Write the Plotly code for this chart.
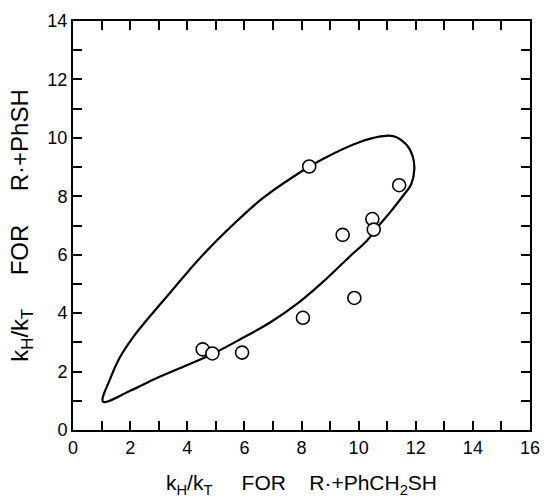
import plotly.graph_objects as go

# Data points (open circles)
pts_x = [4.54, 4.88, 5.92, 8.05, 8.27, 9.44, 9.85, 10.48, 10.53, 11.42]
pts_y = [2.76, 2.62, 2.65, 3.84, 9.02, 6.68, 4.52, 7.22, 6.86, 8.38]

# Enclosing curve
curve_x = [1.05, 1.30, 1.62, 2.10, 2.70, 3.40, 4.40, 5.50, 6.60, 7.70, 8.80, 9.84,
           10.52, 11.21, 11.66, 11.89, 11.95, 11.84, 11.55, 11.10, 10.70, 10.29,
           9.70, 8.81, 7.90, 6.90, 5.90, 4.90, 3.90, 2.90, 2.00, 1.05]
curve_y = [0.97, 1.75, 2.45, 3.17, 3.90, 4.70, 5.84, 6.93, 7.90, 8.66, 9.30, 9.78,
           10.00, 10.06, 9.78, 9.38, 8.92, 8.41, 8.01, 7.45, 6.99, 6.48,
           5.95, 5.12, 4.36, 3.68, 3.13, 2.61, 2.18, 1.76, 1.34, 0.97]

x_ticks = list(range(0, 17))
x_labels = [str(v) if v % 2 == 0 else "" for v in x_ticks]
y_ticks = list(range(0, 15))
y_labels = [str(v) if v % 2 == 0 else "" for v in y_ticks]

FONT = "Liberation Sans"
NB = "\u00a0"

x_title = ("k<sub>H</sub>/k<sub>T</sub>" + NB * 5 + "FOR" + NB * 4
           + "R·+PhCH<sub>2</sub>SH")
y_title = ("k<sub>H</sub>/k<sub>T</sub>" + NB * 5 + "FOR" + NB * 5 + "R·+PhSH")

fig = go.Figure()
fig.add_trace(go.Scatter(x=curve_x, y=curve_y, mode="lines",
                         line=dict(color="black", width=2.2, shape="spline", smoothing=1.0),
                         hoverinfo="skip", showlegend=False))
fig.add_trace(go.Scatter(x=pts_x, y=pts_y, mode="markers",
                         marker=dict(symbol="circle", size=13, color="white",
                                     line=dict(color="black", width=1.6)),
                         showlegend=False))

axis_common = dict(showgrid=False, zeroline=False, showline=True, linecolor="black",
                   linewidth=2, mirror="ticks", ticks="inside", ticklen=9,
                   tickwidth=1.6, tickcolor="black",
                   tickfont=dict(family=FONT, size=18, color="black"))

fig.update_xaxes(range=[0, 16], tickmode="array", tickvals=x_ticks, ticktext=x_labels,
                 title=dict(text=x_title,
                            font=dict(family=FONT, size=21, color="black"), standoff=19),
                 **axis_common)
fig.update_yaxes(range=[0, 14], tickmode="array", tickvals=y_ticks, ticktext=y_labels,
                 title=dict(text=y_title,
                            font=dict(family=FONT, size=24, color="black"), standoff=12),
                 **axis_common)

fig.update_layout(width=550, height=501, plot_bgcolor="white", paper_bgcolor="white",
                  margin=dict(l=73, r=10, t=21, b=69))

fig.write_html("out.html")
